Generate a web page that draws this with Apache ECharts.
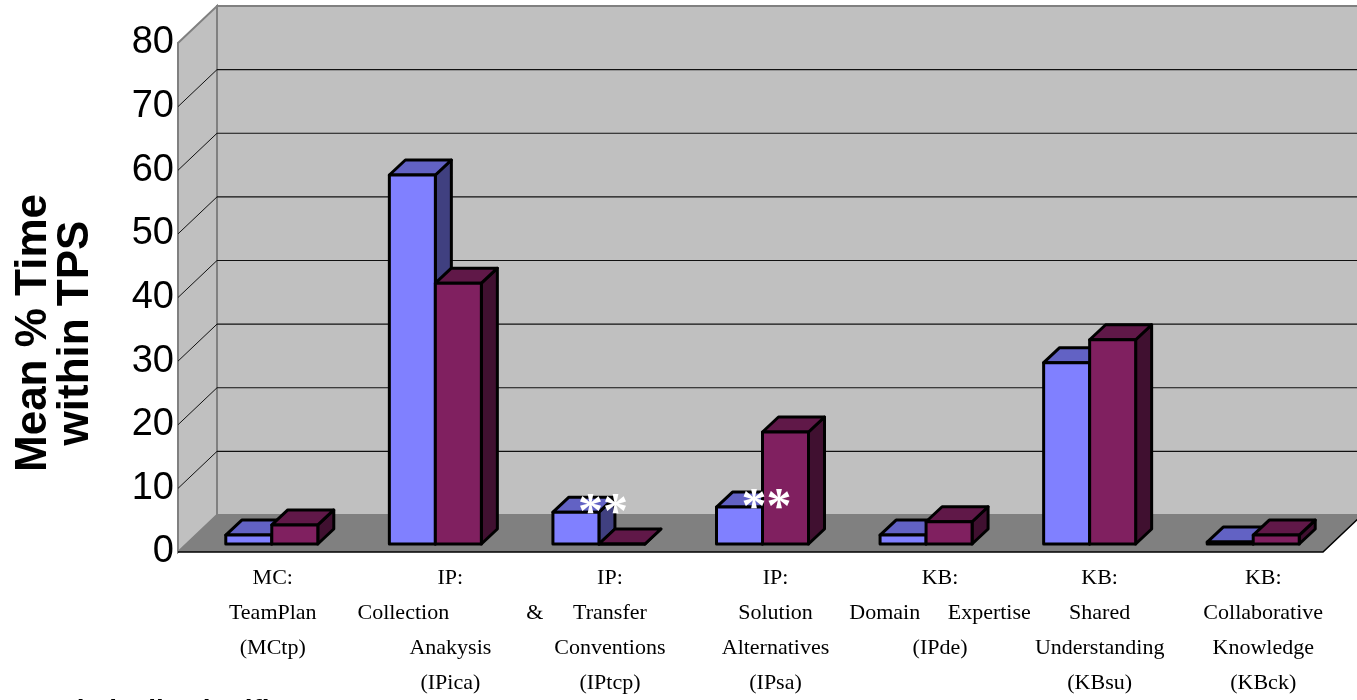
<!DOCTYPE html>
<html><head><meta charset="utf-8">
<script src="https://cdn.jsdelivr.net/npm/echarts/dist/echarts.min.js"></script>
<style>html,body{margin:0;padding:0;background:#fff}#c{width:1357px;height:700px}</style>
</head><body><div id="c"></div>
<script>
// ---- data ----
const categories = [
  'MC:\nTeamPlan\n(MCtp)',
  'IP:\nCollection              &\nAnakysis\n(IPica)',
  'IP:\nTransfer\nConventions\n(IPtcp)',
  'IP:\nSolution\nAlternatives\n(IPsa)',
  'KB:\nDomain     Expertise\n(IPde)',
  'KB:\nShared\nUnderstanding\n(KBsu)',
  'KB:\nCollaborative\nKnowledge\n(KBck)'
];
const seriesA = [1.4, 58.0, 5.0, 5.8, 1.4, 28.5, 0.3];
const seriesB = [3.0, 41.0, 0.0, 17.6, 3.5, 32.1, 1.4];
const significant = [false, false, true, true, false, false, false];
const yMin = 0, yMax = 80, yInterval = 10;
const yTitle = 'Mean % Time\nwithin TPS';
const footnote = '**Statistically significant';

// ---- layout / style ----
const DX = 39, DY = 37;               // wall depth offset
const BOX = {dx: 16, dy: 15, shiftX: 12, shiftY: -8, w: 46};
const labelShift = [13, 27, 23, 25, 26, 22, 22];
const colA = {front: '#8080ff', top: '#6262c4', side: '#404080'};
const colB = {front: '#802060', top: '#601848', side: '#401030'};

const chart = echarts.init(document.getElementById('c'));

function boxSeries(values, si, colors) {
  return {
    type: 'custom', xAxisIndex: 0, yAxisIndex: 0, z: 10 + si, silent: true,
    data: values.map((v, i) => [i, v]),
    renderItem(params, api) {
      const i = api.value(0), v = api.value(1);
      const base = api.coord([i, 0]), top = api.coord([i, v]);
      const cx = base[0] + BOX.shiftX;
      const x0 = si === 0 ? cx - BOX.w : cx, x1 = x0 + BOX.w;
      const yb = base[1] + BOX.shiftY, yt = top[1] + BOX.shiftY;
      const d = BOX.dx, e = BOX.dy;
      const st = {stroke: '#000', lineWidth: 3, lineJoin: 'round'};
      return {type: 'group', children: [
        {type: 'polygon', shape: {points: [[x1, yb], [x1 + d, yb - e], [x1 + d, yt - e], [x1, yt]]}, style: Object.assign({fill: colors.side}, st)},
        {type: 'polygon', shape: {points: [[x0, yt], [x1, yt], [x1 + d, yt - e], [x0 + d, yt - e]]}, style: Object.assign({fill: colors.top}, st)},
        {type: 'polygon', shape: {points: [[x0, yb], [x1, yb], [x1, yt], [x0, yt]]}, style: Object.assign({fill: colors.front}, st)}
      ]};
    }
  };
}

const markerSeries = {
  type: 'custom', xAxisIndex: 0, yAxisIndex: 0, z: 20, silent: true,
  data: seriesA.map((v, i) => [i, v]),
  renderItem(params, api) {
    const i = api.value(0);
    if (!significant[i]) return null;
    const base = api.coord([i, 0]), top = api.coord([i, api.value(1)]);
    const x1 = base[0] + BOX.shiftX;
    const yt = top[1] + BOX.shiftY;
    return {type: 'text', x: x1 + 4, y: yt + 2, style: {
      text: '**', fill: '#fff', font: 'bold 50px "Liberation Serif"', align: 'center', verticalAlign: 'middle'
    }};
  }
};

const decorSeries = {
  type: 'custom', xAxisIndex: 0, yAxisIndex: 0, z: 1, silent: true,
  data: [[0, 0]],
  renderItem(params, api) {
    const cs = params.coordSys;
    const x0 = cs.x, x1 = cs.x + cs.width;
    const y = v => api.coord([0, v])[1];
    const y0 = y(yMin), yT = y(yMax);
    const ch = [];
    ch.push({type: 'polygon', shape: {points: [[x0 + DX, yT - DY], [x1 + DX, yT - DY], [x1 + DX, y0 - DY], [x0 + DX, y0 - DY]]},
      style: {fill: '#c0c0c0', stroke: '#808080', lineWidth: 2}});
    ch.push({type: 'polygon', shape: {points: [[x0, yT], [x0 + DX, yT - DY], [x0 + DX, y0 - DY], [x0, y0]]},
      style: {fill: '#c0c0c0', stroke: '#808080', lineWidth: 2}});
    for (let v = yMin + yInterval; v < yMax; v += yInterval) {
      const yy = y(v);
      ch.push({type: 'line', shape: {x1: x0 + DX, y1: yy - DY, x2: x1 + DX, y2: yy - DY}, style: {stroke: '#111', lineWidth: 1.2}});
      ch.push({type: 'line', shape: {x1: x0, y1: yy, x2: x0 + DX, y2: yy - DY}, style: {stroke: '#111', lineWidth: 1}});
    }
    ch.push({type: 'polygon', shape: {points: [[x0, y0], [x1, y0], [x1 + DX, y0 - DY], [x0 + DX, y0 - DY]]},
      style: {fill: '#808080'}});
    ch.push({type: 'polyline', shape: {points: [[x0, y0], [x1, y0], [x1 + DX, y0 - DY]]},
      style: {stroke: '#000', lineWidth: 1.5, fill: null}});
    return {type: 'group', children: ch};
  }
};

const rich = {};
labelShift.forEach((s, i) => {
  rich['s' + i] = {padding: [0, 0, 0, 2 * s], fontSize: 22, fontFamily: '"Liberation Serif"', lineHeight: 35, color: '#000'};
});

chart.setOption({
  animation: false,
  backgroundColor: '#fff',
  grid: {left: 178, right: 34, top: 43, bottom: 148, containLabel: false},
  xAxis: {
    type: 'category', data: categories,
    axisLine: {show: false}, axisTick: {show: false}, splitLine: {show: false},
    axisLabel: {
      interval: 0, margin: 9,
      formatter: (val, idx) => val.split('\n').map(l => '{s' + idx + '|' + l + '}').join('\n'),
      rich: rich
    }
  },
  yAxis: {
    type: 'value', min: yMin, max: yMax, interval: yInterval,
    axisLine: {show: true, lineStyle: {color: '#808080', width: 2}},
    axisTick: {show: false}, splitLine: {show: false},
    axisLabel: {fontSize: 38, fontFamily: '"Liberation Sans"', color: '#000', margin: 4}
  },
  graphic: [
    {type: 'text', x: 55, y: 333, rotation: Math.PI / 2, style: {
      text: yTitle, fill: '#000', font: 'bold 44px "Liberation Sans"', align: 'center', verticalAlign: 'middle', lineHeight: 42
    }},
    {type: 'text', left: 2, top: 697, style: {
      text: footnote, fill: '#000', font: 'bold 28px "Liberation Sans"'
    }}
  ],
  series: [decorSeries, boxSeries(seriesA, 0, colA), boxSeries(seriesB, 1, colB), markerSeries]
});
</script>
</body></html>
